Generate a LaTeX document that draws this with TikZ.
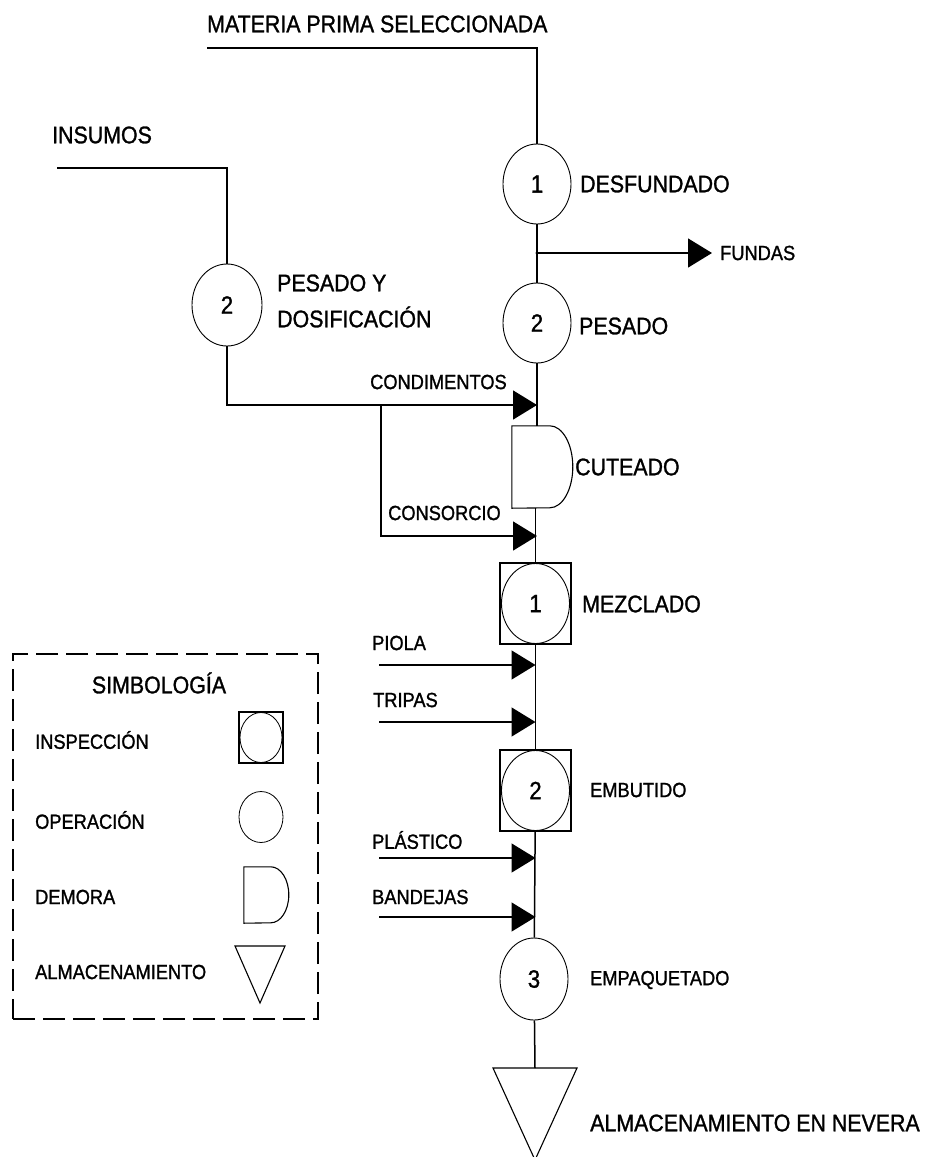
\documentclass[tikz,border=0pt]{standalone}
\usepackage{fontspec}
\setmainfont{Liberation Sans}[FakeStretch=0.89,FakeBold=1.2]
\usetikzlibrary{shapes.geometric,arrows.meta}
\begin{document}
\begin{tikzpicture}[x=1pt,y=-1pt,
  big/.style={font=\fontsize{24}{36}\selectfont, anchor=west, inner sep=0pt},
  small/.style={font=\fontsize{20.5}{24}\selectfont, anchor=west, inner sep=0pt},
  op/.style={ellipse, draw, line width=0.9pt, minimum width=68pt, minimum height=80pt, inner sep=0pt, font=\fontsize{25}{28}\selectfont},
  sq/.style={rectangle, draw, line width=1.2pt, minimum width=71pt, minimum height=81pt, inner sep=0pt},
  flow/.style={line width=1.5pt},
  arr/.style={flow, -{Triangle[length=24pt,width=29pt]}},
  sym/.style={line width=1.1pt}
]
\useasboundingbox (0,0) rectangle (930,1157);

% ---------- main column ----------
\node[op] (o1) at (537,184) {1};
\node[op] (o2) at (537,323) {2};
\node[op, minimum width=70pt, minimum height=82pt] (lo2) at (227,305) {2};
\node[inner sep=0pt, minimum width=61pt, minimum height=82pt] (dem) at (542.5,467) {};
\node[sq] (m1) at (535.5,603.5) {};
\node[op] (m1c) at (m1) {1};
\node[sq] (m2) at (535.5,790.5) {};
\node[op] (m2c) at (m2) {2};
\node[op, minimum height=82pt] (o3) at (534,979) {3};

% delay shape
\draw[sym] (dem.south west) -- (dem.north west) -- ++(38,0)
  arc[start angle=90, end angle=-90, x radius=23pt, y radius=41pt] -- cycle;

% storage triangle
\coordinate (almL) at (493,1068);
\coordinate (almR) at (577,1068);
\coordinate (almB) at (535,1160);
\coordinate (almT) at (535,1068);
\draw[sym] (almL) -- (almR) -- (almB) -- cycle;

% ---------- labels ----------
\node[big] (tmp) at (207,24) {MATERIA PRIMA SELECCIONADA};
\node[big] (tins) at (52,135) {INSUMOS};
\node[big] (tdes) at (580,184) {DESFUNDADO};
\node[small] (tfun) at (720,253) {FUNDAS};
\node[big, align=left] (tpd) at (277,301) {PESADO Y\\DOSIFICACIÓN};
\node[big] (tpes) at (579,326) {PESADO};
\node[small] (tcond) at (370,382) {CONDIMENTOS};
\node[big] (tcut) at (575,467) {CUTEADO};
\node[small] (tcons) at (388,513) {CONSORCIO};
\node[big] (tmez) at (582,604) {MEZCLADO};
\node[small] (tpio) at (372,643) {PIOLA};
\node[small] (ttri) at (373,700) {TRIPAS};
\node[small] (temb) at (590,790) {EMBUTIDO};
\node[small] (tpla) at (372,840) {PLÁSTICO};
\node[small] (tban) at (372,897) {BANDEJAS};
\node[small] (temp) at (590,980) {EMPAQUETADO};
\node[big] (talm) at (590,1123) {ALMACENAMIENTO EN NEVERA};

% ---------- connectors ----------
\coordinate (mp) at (207,48);
\draw[flow] (mp) -| (o1);
\coordinate (j1) at (537,253);
\coordinate (funT) at (712,253);
\draw[flow] (o1) -- (o2);
\draw[arr] (j1) -- (funT);
\fill (j1) circle (1.6pt);

\coordinate (ins) at (57,168);
\draw[flow] (ins) -| (lo2);

\draw[flow] (o2) -- (o2 |- dem.north);
\coordinate (cT) at (537,405);
\coordinate (b1) at (381,405);
\coordinate (kT) at (537,536);
\draw[arr] (lo2) |- (cT);
\draw[arr] (b1) |- (kT);

\draw[flow] (m1 |- dem.south) -- (m1);
\draw[flow] (m1) -- (m2);
\draw[flow] (m2) -- (o3);
\draw[flow] (o3) -- (almT);

\coordinate (pS) at (379,665);  \coordinate (pT) at (535.5,665);
\coordinate (tS) at (379,722);  \coordinate (tT) at (535.5,722);
\coordinate (lS) at (379,858);  \coordinate (lT) at (535.5,858);
\coordinate (bS) at (379,917);  \coordinate (bT) at (535.5,917);
\draw[arr] (pS) -- (pT);
\draw[arr] (tS) -- (tT);
\draw[arr] (lS) -- (lT);
\draw[arr] (bS) -- (bT);

% ---------- legend ----------
\node[draw, line width=1.3pt, dash pattern=on 22pt off 8pt, minimum width=305pt, minimum height=365pt, inner sep=0pt] (leg) at (165.5,836.5) {};
\node[big, anchor=center] (lt) at (159,683) {SIMBOLOGÍA};
\node[small] (li) at (35,740) {INSPECCIÓN};
\node[small] (lo) at (35,820) {OPERACIÓN};
\node[small] (ld) at (35,897) {DEMORA};
\node[small] (la) at (35,972) {ALMACENAMIENTO};

\node[rectangle, draw, sym, minimum width=44pt, minimum height=51pt, inner sep=0pt] (ls1) at (261,737.5) {};
\node[ellipse, draw, line width=0.8pt, minimum width=42pt, minimum height=50pt, inner sep=0pt] (ls1c) at (ls1) {};
\node[ellipse, draw, line width=0.8pt, minimum width=44pt, minimum height=51pt, inner sep=0pt] (ls2) at (261,817) {};
\node[inner sep=0pt, minimum width=45pt, minimum height=56pt] (ls3) at (266.5,895) {};
\draw[sym] (ls3.south west) -- (ls3.north west) -- ++(27,0)
  arc[start angle=90, end angle=-90, x radius=18pt, y radius=28pt] -- cycle;
\coordinate (lsL) at (235,946);
\coordinate (lsR) at (285,946);
\coordinate (lsB) at (260,1003);
\draw[sym] (lsL) -- (lsR) -- (lsB) -- cycle;
\end{tikzpicture}
\end{document}
